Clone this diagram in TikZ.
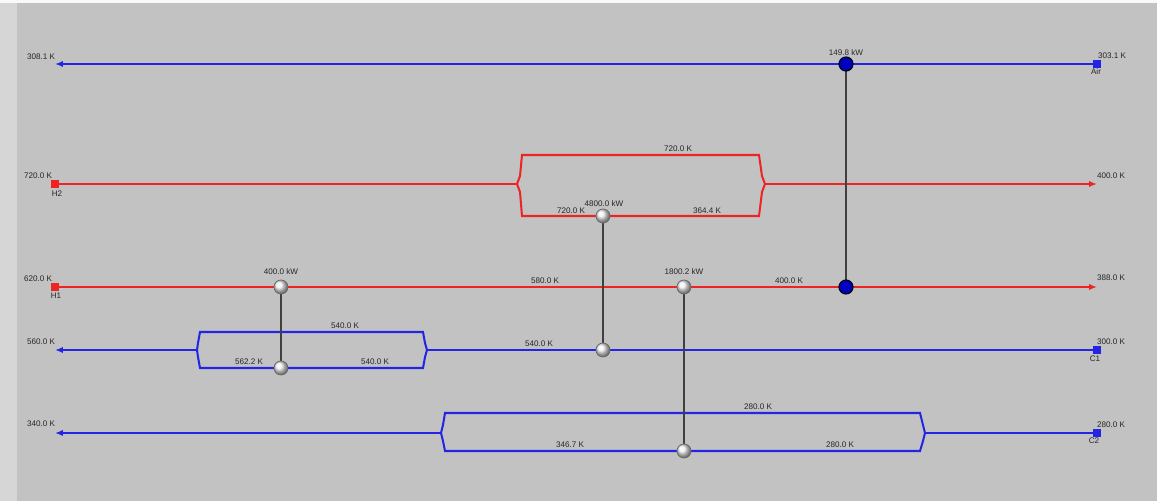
\documentclass[tikz,border=0pt]{standalone}
\usepackage{fontspec}
\setmainfont{Liberation Sans}
\usetikzlibrary{arrows.meta}
\definecolor{hotred}{RGB}{238,36,36}
\definecolor{coldblue}{RGB}{36,36,228}
\definecolor{panel}{RGB}{194,194,194}
\definecolor{strip}{RGB}{214,214,214}
\begin{document}
\begin{tikzpicture}[x=0.02cm, y=-0.02cm,
		lbl/.style={font=\fontsize{4.6}{5}\selectfont, inner sep=0pt, text=black!85},
		hot/.style={draw=hotred, line width=1.15pt},
		cold/.style={draw=coldblue, line width=1.15pt},
		tip/.style={-{Latex[length=4.5pt, width=3.6pt]}},
		hotport/.style={rectangle, inner sep=0pt, minimum size=4pt, fill=hotred},
		coldport/.style={rectangle, inner sep=0pt, minimum size=4pt, fill=coldblue},
		hx/.style={circle, inner sep=0pt, minimum size=8pt, shading=ball, ball color=gray!12, draw=black!60, line width=0.4pt},
		util/.style={circle, inner sep=0pt, minimum size=8pt, fill=blue!75!black, draw=black, line width=0.6pt},
		link/.style={draw=black!75, line width=0.7pt},
	]
	% background
	\useasboundingbox (0,0) rectangle (1157,501);
	\fill[panel] (0,0) rectangle (1157,501);
	\fill[strip] (0,0) rectangle (17,501);
	\fill[white!90!panel] (0,0) rectangle (1157,3);

	% stream ends and exchanger points
	\coordinate (airout) at (55,64);
	\coordinate (h2out) at (1097,184);
	\coordinate (h1out) at (1097,287);
	\coordinate (c1out) at (55,350);
	\coordinate (c2out) at (55,433);
	\coordinate (h2a) at (517,184);
	\coordinate (h2b) at (765,184);
	\coordinate (c1a) at (197,350);
	\coordinate (c1b) at (427,350);
	\coordinate (c2a) at (441,433);
	\coordinate (c2b) at (925,433);
	\coordinate (p1) at (846,64);
	\coordinate (p2) at (846,287);
	\coordinate (q1) at (281,287);
	\coordinate (q2) at (281,368);
	\coordinate (r1) at (603,216);
	\coordinate (r2) at (603,350);
	\coordinate (s1) at (684,287);
	\coordinate (s2) at (684,451);

	% ports
	\node[coldport] (air) at (1097,64) {};
	\node[hotport] (h2) at (55,184) {};
	\node[hotport] (h1) at (55,287) {};
	\node[coldport] (c1) at (1097,350) {};
	\node[coldport] (c2) at (1097,433) {};

	% streams
	\draw[cold, tip] (air) -- (airout);
	\draw[hot] (h2) -- (h2a);
	\draw[hot] (h2a) -- (520,176) -- (522,155) -- (759,155) -- (762,176) -- (h2b);
	\draw[hot] (h2a) -- (520,192) -- (522,216) -- (759,216) -- (762,192) -- (h2b);
	\draw[hot, tip] (h2b) -- (h2out);
	\draw[hot, tip] (h1) -- (h1out);
	\draw[cold] (c1) -- (c1b);
	\draw[cold] (c1b) -- (425,343) -- (423,332) -- (200,332) -- (198,343) -- (c1a);
	\draw[cold] (c1b) -- (425,357) -- (423,368) -- (200,368) -- (198,357) -- (c1a);
	\draw[cold, tip] (c1a) -- (c1out);
	\draw[cold] (c2) -- (c2b);
	\draw[cold] (c2b) -- (923,425) -- (920,413) -- (445,413) -- (443,425) -- (c2a);
	\draw[cold] (c2b) -- (923,441) -- (920,451) -- (445,451) -- (443,441) -- (c2a);
	\draw[cold, tip] (c2a) -- (c2out);

	% exchangers
	\draw[link] (p1) -- (p2);
	\draw[link] (q1) -- (q2);
	\draw[link] (r1) -- (r2);
	\draw[link] (s1) -- (s2);
	\node[util] (cool1) at (p1) {};
	\node[util] (cool2) at (p2) {};
	\node[hx] (ex1a) at (q1) {};
	\node[hx] (ex1b) at (q2) {};
	\node[hx] (ex2a) at (r1) {};
	\node[hx] (ex2b) at (r2) {};
	\node[hx] (ex3a) at (s1) {};
	\node[hx] (ex3b) at (s2) {};

	% labels
	\node[lbl] at (41,57) {308.1 K};
	\node[lbl] at (846,53) {149.8 kW};
	\node[lbl] at (1112,56) {303.1 K};
	\node[lbl] at (1096,72) {Air};

	\node[lbl] at (38,176) {720.0 K};
	\node[lbl] at (57,194) {H2};
	\node[lbl] at (678,149) {720.0 K};
	\node[lbl] at (571,211) {720.0 K};
	\node[lbl] at (604,204) {4800.0 kW};
	\node[lbl] at (707,211) {364.4 K};
	\node[lbl] at (1111,176) {400.0 K};

	\node[lbl] at (38,279) {620.0 K};
	\node[lbl] at (56,296) {H1};
	\node[lbl] at (281,272) {400.0 kW};
	\node[lbl] at (545,281) {580.0 K};
	\node[lbl] at (684,272) {1800.2 kW};
	\node[lbl] at (789,281) {400.0 K};
	\node[lbl] at (1111,278) {388.0 K};

	\node[lbl] at (41,342) {560.0 K};
	\node[lbl] at (345,326) {540.0 K};
	\node[lbl] at (249,362) {562.2 K};
	\node[lbl] at (375,362) {540.0 K};
	\node[lbl] at (539,344) {540.0 K};
	\node[lbl] at (1111,342) {300.0 K};
	\node[lbl] at (1095,359) {C1};

	\node[lbl] at (41,424) {340.0 K};
	\node[lbl] at (758,407) {280.0 K};
	\node[lbl] at (570,445) {346.7 K};
	\node[lbl] at (840,445) {280.0 K};
	\node[lbl] at (1111,425) {280.0 K};
	\node[lbl] at (1094,441) {C2};
\end{tikzpicture}
\end{document}
